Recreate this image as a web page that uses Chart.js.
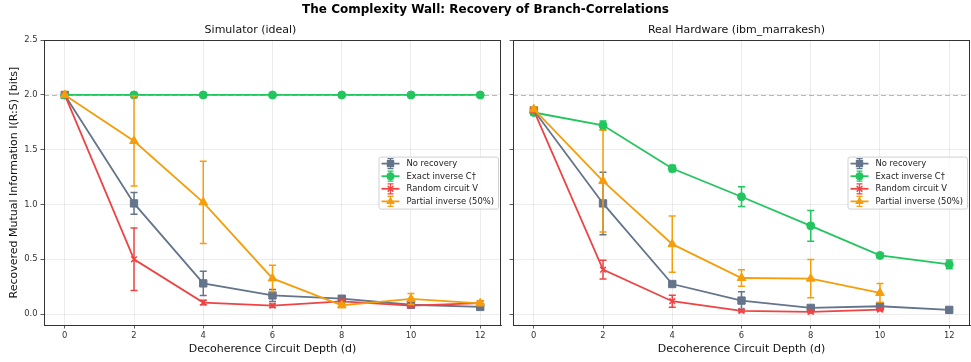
<!DOCTYPE html>
<html><head><meta charset="utf-8">
<script src="https://cdn.jsdelivr.net/npm/chart.js@4"></script>
<style>
html,body{margin:0;padding:0;background:#fff;width:971px;height:362px;overflow:hidden;font-family:"DejaVu Sans",sans-serif;}
#title{position:absolute;left:0;top:1px;width:971px;text-align:center;font-weight:bold;font-size:12px;line-height:16px;color:#000;}
#c1{position:absolute;left:0;top:0;}
#c2{position:absolute;left:503px;top:0;}
</style></head><body>
<canvas id="c1" width="503" height="362"></canvas>
<canvas id="c2" width="468" height="362"></canvas>
<div id="title">The Complexity Wall: Recovery of Branch-Correlations</div>
<script>
// ---- data ----
const depths = [0, 2, 4, 6, 8, 10, 12];
const xTicks = [0, 2, 4, 6, 8, 10, 12];
const yTicks = [0, 0.5, 1.0, 1.5, 2.0, 2.5];
const seriesNames = ['No recovery', 'Exact inverse C\u2020', 'Random circuit V', 'Partial inverse (50%)'];
const panelTitles = ['Simulator (ideal)', 'Real Hardware (ibm_marrakesh)'];
const refLevel = [2.0];

// Simulator (ideal)
const simNoRecovery    = [2.00, 1.01, 0.28, 0.17, 0.14, 0.085, 0.065];
const simNoRecoveryErr = [0, 0.10, 0.11, 0.055, 0.02, 0.015, 0.015];
const simExact         = [2.00, 2.00, 2.00, 2.00, 2.00, 2.00, 2.00];
const simExactErr      = [0, 0, 0, 0, 0, 0, 0];
const simRandom        = [2.00, 0.50, 0.105, 0.077, 0.115, 0.077, 0.10];
const simRandomErr     = [0, 0.285, 0.02, 0.015, 0.02, 0.015, 0.02];
const simPartial       = [2.00, 1.58, 1.02, 0.325, 0.08, 0.138, 0.098];
const simPartialErr    = [0, 0.41, 0.375, 0.12, 0.02, 0.05, 0.02];

// Real hardware (ibm_marrakesh)
const hwNoRecovery    = [1.86, 1.01, 0.274, 0.123, 0.056, 0.071, 0.038];
const hwNoRecoveryErr = [0.02, 0.285, 0.02, 0.08, 0.02, 0.015, 0.015];
const hwExact         = [1.84, 1.723, 1.329, 1.071, 0.805, 0.535, 0.453];
const hwExactErr      = [0.02, 0.04, 0.03, 0.09, 0.14, 0.02, 0.04];
const hwRandom        = [1.86, 0.405, 0.117, 0.029, 0.02, 0.041, null];
const hwRandomErr     = [0.02, 0.085, 0.055, 0.01, 0.01, 0.01, null];
const hwPartial       = [1.87, 1.214, 0.638, 0.329, 0.323, 0.193, null];
const hwPartialErr    = [0.02, 0.465, 0.256, 0.075, 0.175, 0.085, null];

// ---- styles ----
const colors = ['#64748b', '#22c55e', '#ef4444', '#f59e0b'];
const markers = ['rect', 'circle', 'crossRot', 'triangle'];
const radii = [5.2, 4, 4, 5];
const FONT = '"DejaVu Sans", sans-serif';

function mkDatasets(vals, errs) {
  return vals.map((v, k) => ({
    label: seriesNames[k],
    data: depths.map((d, i) => ({x: d, y: v[i]})),
    err: errs[k],
    borderColor: colors[k],
    backgroundColor: colors[k],
    pointBackgroundColor: colors[k],
    pointBorderColor: colors[k],
    pointStyle: markers[k],
    pointRadius: radii[k],
    pointBorderWidth: k === 2 ? 1.5 : 1,
    borderWidth: 1.8,
    tension: 0,
    order: 4 - k,
    spanGaps: false
  }));
}

function drawMarker(ctx, style, x, y, r, color) {
  ctx.save();
  ctx.fillStyle = color; ctx.strokeStyle = color; ctx.lineWidth = 1.5;
  ctx.beginPath();
  if (style === 'rect') { const s = r * Math.SQRT1_2; ctx.rect(x - s, y - s, 2 * s, 2 * s); ctx.fill(); }
  else if (style === 'circle') { ctx.arc(x, y, r, 0, Math.PI * 2); ctx.fill(); }
  else if (style === 'triangle') {
    ctx.moveTo(x, y - r); ctx.lineTo(x + r * 0.866, y + r * 0.5); ctx.lineTo(x - r * 0.866, y + r * 0.5); ctx.closePath(); ctx.fill();
  } else { const s = r * Math.SQRT1_2; ctx.moveTo(x - s, y - s); ctx.lineTo(x + s, y + s); ctx.moveTo(x + s, y - s); ctx.lineTo(x - s, y + s); ctx.stroke(); }
  ctx.restore();
}

const panelPlugin = {
  id: 'panel',
  beforeDatasetsDraw(chart) {
    const {ctx, chartArea: a, scales: {y}} = chart;
    ctx.save();
    ctx.strokeStyle = 'rgba(128,128,128,0.55)'; ctx.lineWidth = 1; ctx.setLineDash([5, 3]);
    refLevel.forEach(v => { const py = Math.round(y.getPixelForValue(v)) + 0.5; ctx.beginPath(); ctx.moveTo(a.left, py); ctx.lineTo(a.right, py); ctx.stroke(); });
    ctx.restore();
  },
  beforeDatasetDraw(chart, args) {
    const ds = chart.data.datasets[args.index];
    if (!ds.err) return;
    const {ctx, scales: {x, y}} = chart;
    ctx.save(); ctx.strokeStyle = ds.borderColor; ctx.lineWidth = 1.5;
    ds.data.forEach((p, i) => {
      const e = ds.err[i];
      if (p.y == null || !e) return;
      const px = x.getPixelForValue(p.x), y1 = y.getPixelForValue(p.y + e), y2 = y.getPixelForValue(p.y - e);
      ctx.beginPath();
      ctx.moveTo(px, y1); ctx.lineTo(px, y2);
      ctx.moveTo(px - 3.5, y1); ctx.lineTo(px + 3.5, y1);
      ctx.moveTo(px - 3.5, y2); ctx.lineTo(px + 3.5, y2);
      ctx.stroke();
    });
    ctx.restore();
  },
  afterDraw(chart) {
    const {ctx, chartArea: a} = chart;
    ctx.save();
    ctx.strokeStyle = '#333'; ctx.lineWidth = 1;
    ctx.strokeRect(Math.round(a.left) + 0.5, Math.round(a.top) + 0.5, Math.round(a.right - a.left) - 1, Math.round(a.bottom - a.top));
    // legend
    ctx.font = '8.4px ' + FONT;
    const tw = Math.max(...seriesNames.map(n => ctx.measureText(n).width));
    const bw = 2 + 18 + 7 + tw + 5, bh = 52;
    const bx = a.right - 3 - bw, by = (a.top + a.bottom) / 2 - bh / 2;
    ctx.fillStyle = 'rgba(255,255,255,0.85)'; ctx.strokeStyle = '#d0d0d0';
    ctx.beginPath();
    if (ctx.roundRect) ctx.roundRect(bx + 0.5, by + 0.5, bw, bh, 2); else ctx.rect(bx + 0.5, by + 0.5, bw, bh);
    ctx.fill(); ctx.stroke();
    chart.data.datasets.forEach((ds, k) => {
      const ry = by + 7 + 12.6 * k;
      const lx0 = bx + 3, lx1 = bx + 21, cx = (lx0 + lx1) / 2;
      ctx.strokeStyle = colors[k]; ctx.lineWidth = 1.8;
      ctx.beginPath(); ctx.moveTo(lx0, ry); ctx.lineTo(lx1, ry); ctx.stroke();
      ctx.lineWidth = 1.2;
      ctx.beginPath(); ctx.moveTo(cx, ry - 5); ctx.lineTo(cx, ry + 5);
      ctx.moveTo(cx - 3, ry - 5); ctx.lineTo(cx + 3, ry - 5); ctx.moveTo(cx - 3, ry + 5); ctx.lineTo(cx + 3, ry + 5); ctx.stroke();
      drawMarker(ctx, markers[k], cx, ry, radii[k], colors[k]);
      ctx.fillStyle = '#222'; ctx.textBaseline = 'middle'; ctx.textAlign = 'left';
      ctx.fillText(seriesNames[k], bx + 28, ry + 0.5);
    });
    ctx.restore();
  }
};

function makeChart(id, title, vals, errs, isLeft) {
  return new Chart(document.getElementById(id), {
    type: 'line',
    data: {datasets: mkDatasets(vals, errs)},
    plugins: [panelPlugin],
    options: {
      responsive: false, animation: false, devicePixelRatio: 1,
      layout: {autoPadding: false, padding: {left: 0, right: isLeft ? 2 : 1, top: 0, bottom: 0}},
      plugins: {
        legend: {display: false}, tooltip: {enabled: false},
        title: {display: true, text: title, color: '#111', font: {family: FONT, size: 11, weight: 'normal'}, padding: {top: 24, bottom: 3}}
      },
      scales: {
        x: {
          type: 'linear', min: -0.6, max: 12.6,
          afterBuildTicks: s => { s.ticks = xTicks.map(v => ({value: v})); },
          afterFit: s => { s.height = 37; s.paddingLeft = 0; s.paddingRight = 0; },
          ticks: {color: '#333', font: {family: FONT, size: 8.4}, padding: 2, maxRotation: 0, callback: v => String(v)},
          grid: {color: 'rgba(176,176,176,0.3)', lineWidth: 0.8, tickColor: '#333', tickLength: 3.5, drawTicks: true},
          border: {display: true, color: '#333', width: 1},
          title: {display: true, text: 'Decoherence Circuit Depth (d)', color: '#111', font: {family: FONT, size: 11}, padding: {top: 2, bottom: 6}}
        },
        y: {
          type: 'linear', min: -0.1, max: 2.5,
          afterBuildTicks: s => { s.ticks = yTicks.map(v => ({value: v})); },
          afterFit: s => { s.width = isLeft ? 44 : 10; },
          ticks: {display: isLeft, color: '#333', font: {family: FONT, size: 8.4}, padding: 3, callback: v => v.toFixed(1)},
          grid: {color: 'rgba(176,176,176,0.3)', lineWidth: 0.8, tickColor: '#333', tickLength: 3.5, drawTicks: true},
          border: {display: true, color: '#333', width: 1},
          title: {display: isLeft, text: 'Recovered Mutual Information I(R:S) [bits]', color: '#111', font: {family: FONT, size: 11}, padding: {top: 8, bottom: 0}}
        }
      }
    }
  });
}

makeChart('c1', panelTitles[0],
  [simNoRecovery, simExact, simRandom, simPartial],
  [simNoRecoveryErr, simExactErr, simRandomErr, simPartialErr], true);
makeChart('c2', panelTitles[1],
  [hwNoRecovery, hwExact, hwRandom, hwPartial],
  [hwNoRecoveryErr, hwExactErr, hwRandomErr, hwPartialErr], false);
</script>
</body></html>
